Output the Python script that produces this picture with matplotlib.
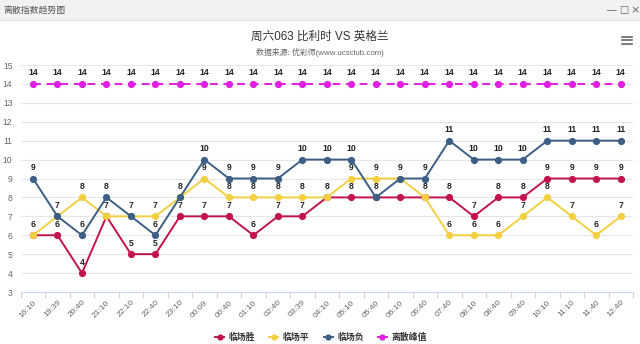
import matplotlib
matplotlib.use("Agg")
import matplotlib.pyplot as plt
from matplotlib.lines import Line2D

plt.rcParams["font.family"] = ["Liberation Sans", "Noto Sans CJK SC", "DejaVu Sans"]

times = ["16:10", "19:39", "20:40", "21:10", "22:10", "22:40", "23:10", "00:09",
         "00:40", "01:10", "02:40", "03:39", "04:10", "05:10", "05:40", "06:10",
         "06:40", "07:40", "08:10", "08:40", "09:40", "10:10", "11:10", "11:40", "12:40"]
win = [6, 6, 4, 7, 5, 5, 7, 7, 7, 6, 7, 7, 8, 8, 8, 8, 8, 8, 7, 8, 8, 9, 9, 9, 9]
draw = [6, 7, 8, 7, 7, 7, 8, 9, 8, 8, 8, 8, 8, 9, 9, 9, 8, 6, 6, 6, 7, 8, 7, 6, 7]
lose = [9, 7, 6, 8, 7, 6, 8, 10, 9, 9, 9, 10, 10, 10, 8, 9, 9, 11, 10, 10, 10, 11, 11, 11, 11]
peak = [14] * len(times)

series = [
    ("临场胜", win, "#c2134c", "-"),
    ("临场平", draw, "#f3cf42", "-"),
    ("临场负", lose, "#3d5f86", "-"),
    ("离散峰值", peak, "#e01fe0", (0, (4, 3))),
]
# labels that the original chart hides because they collide with others
hidden = {("临场胜", 15)}

W, H = 640, 344
fig = plt.figure(figsize=(W / 100, H / 100), dpi=100)
fig.patch.set_facecolor("white")

# window title bar
fig.patches.append(plt.Rectangle((0, 1 - 20 / H), 1, 20 / H, transform=fig.transFigure,
                                 facecolor="#f2f2f2", edgecolor="none"))
fig.add_artist(Line2D([0, 1], [1 - 20 / H] * 2, color="#e4e4e4", lw=0.8))
fig.text(3 / W, 1 - 10 / H, "离散指数趋势图", fontsize=6.4, color="#555555", va="center")
fig.text(612 / W, 1 - 10 / H, "—", fontsize=7, color="#666666", va="center", ha="center")
fig.text(624 / W, 1 - 10 / H, "□", fontsize=7, color="#666666", va="center", ha="center",
         family=["DejaVu Sans"])
fig.text(635 / W, 1 - 10 / H, "×", fontsize=8, color="#666666", va="center", ha="center",
         family=["DejaVu Sans"])
# menu button
for yy in (36.5, 40, 43.5):
    fig.add_artist(Line2D([622 / W, 632 / W], [1 - yy / H] * 2, color="#666666", lw=1.2))

fig.text(320 / W, 1 - 37 / H, "周六063 比利时 VS 英格兰", fontsize=8.4, color="#333333",
         ha="center", va="center")
fig.text(320 / W, 1 - 52 / H, "数据来源: 优彩师(www.ucsclub.com)", fontsize=5.7,
         color="#666666", ha="center", va="center")

left, right = 20.75, 633
ytop, ybot = 65, 292
ax = fig.add_axes([left / W, 1 - ybot / H, (right - left) / W, (ybot - ytop) / H])
ax.set_xlim(-0.5, len(times) - 0.5)
ax.set_ylim(3, 15)

x = list(range(len(times)))
for name, vals, color, ls in series:
    ax.plot(x, vals, color=color, lw=1.4, ls=ls, marker="o", markersize=5.2,
            markeredgewidth=0, label=name, zorder=3, clip_on=False)

labelled = [set() for _ in times]
for name, vals, color, ls in series:
    for i, v in enumerate(vals):
        if v in labelled[i] or (name, i) in hidden:
            continue
        labelled[i].add(v)
        ax.annotate(str(v), (i, v), xytext=(0, 11), textcoords="offset pixels",
                    ha="center", va="center", fontsize=6.2, fontweight="bold",
                    color="#222222", zorder=5)

ax.set_yticks(range(3, 16))
ax.grid(axis="y", color="#e6e6e6", lw=0.8)
ax.set_axisbelow(True)
for s in ["top", "right", "left"]:
    ax.spines[s].set_visible(False)
ax.spines["bottom"].set_color("#ccd6eb")
ax.spines["bottom"].set_linewidth(0.8)
ax.tick_params(axis="y", length=0, pad=6, labelsize=6.2, labelcolor="#666666")
ax.set_xticks(x)
ax.set_xticklabels(times, rotation=45, ha="right", rotation_mode="anchor")
ax.tick_params(axis="x", which="major", length=0, pad=5, labelsize=6.0, labelcolor="#666666")
ax.set_xticks([i - 0.5 for i in range(len(times) + 1)], minor=True)
ax.tick_params(axis="x", which="minor", length=4, color="#ccd6eb", width=0.8)

handles = [Line2D([0], [0], color=c, lw=1.4, marker="o", markersize=4.5, markeredgewidth=0)
           for _, _, c, _ in series]
leg = fig.legend(handles, [s[0] for s in series], loc="center", ncol=4,
                 bbox_to_anchor=(321 / W, 1 - 337 / H), frameon=False, handlelength=1.0,
                 handletextpad=0.5, columnspacing=1.6,
                 prop={"size": 6.4, "weight": "bold"})
for t in leg.get_texts():
    t.set_color("#333333")

fig.savefig("out.png", dpi=100)
